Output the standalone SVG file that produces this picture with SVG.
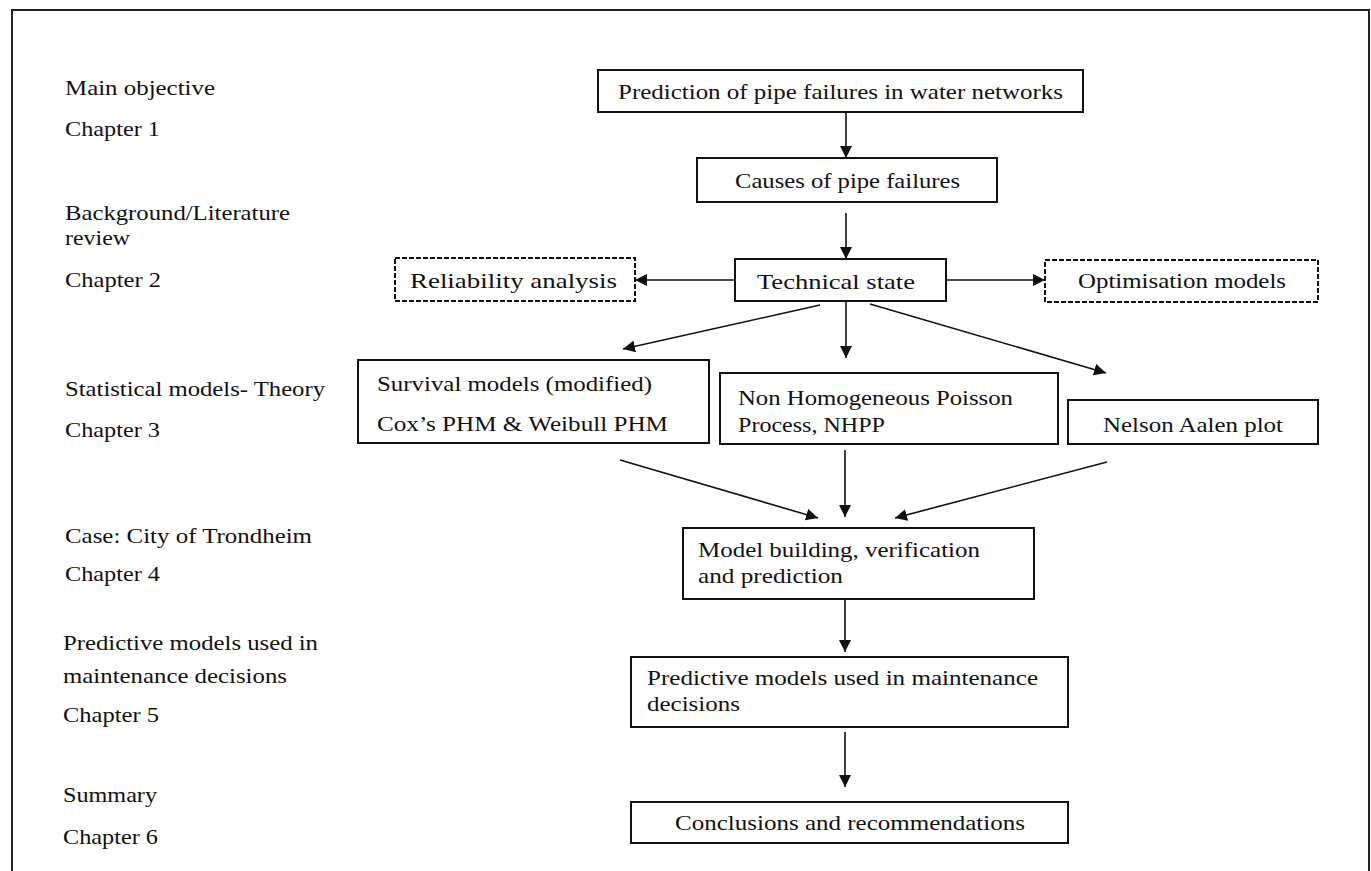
<svg xmlns="http://www.w3.org/2000/svg" width="1371" height="871" viewBox="0 0 1371 871">
<style>
text{font-family:"Liberation Serif","Times New Roman",serif;font-size:22px;fill:#111}
.box{fill:#fff;stroke:#111;stroke-width:2}
.dash{fill:#fff;stroke:#111;stroke-width:2;stroke-dasharray:5 2}
.con{stroke:#111;stroke-width:1.6;fill:none;marker-end:url(#ah)}
</style>
<defs>
<marker id="ah" markerUnits="userSpaceOnUse" markerWidth="13" markerHeight="12" refX="12" refY="6" orient="auto">
<path d="M0,0 L12,6 L0,12 z" fill="#111"/>
</marker>
</defs>
<rect width="1371" height="871" fill="#fff"/>
<rect x="12" y="10" width="1357" height="880" fill="none" stroke="#222" stroke-width="2"/>
<g id="labels">
<text x="65" y="95" textLength="150" lengthAdjust="spacingAndGlyphs">Main objective</text>
<text x="65" y="136" textLength="95" lengthAdjust="spacingAndGlyphs">Chapter 1</text>
<text x="65" y="220" textLength="225" lengthAdjust="spacingAndGlyphs">Background/Literature</text>
<text x="65" y="245" textLength="65" lengthAdjust="spacingAndGlyphs">review</text>
<text x="65" y="287" textLength="96" lengthAdjust="spacingAndGlyphs">Chapter 2</text>
<text x="65" y="396" textLength="260" lengthAdjust="spacingAndGlyphs">Statistical models- Theory</text>
<text x="65" y="437" textLength="95" lengthAdjust="spacingAndGlyphs">Chapter 3</text>
<text x="65" y="543" textLength="247" lengthAdjust="spacingAndGlyphs">Case: City of Trondheim</text>
<text x="65" y="581" textLength="95" lengthAdjust="spacingAndGlyphs">Chapter 4</text>
<text x="63" y="650" textLength="255" lengthAdjust="spacingAndGlyphs">Predictive models used in</text>
<text x="63" y="683" textLength="224" lengthAdjust="spacingAndGlyphs">maintenance decisions</text>
<text x="63" y="722" textLength="96" lengthAdjust="spacingAndGlyphs">Chapter 5</text>
<text x="63" y="802" textLength="94" lengthAdjust="spacingAndGlyphs">Summary</text>
<text x="63" y="844" textLength="95" lengthAdjust="spacingAndGlyphs">Chapter 6</text>
</g>
<g id="connectors">
<line class="con" x1="846" y1="112" x2="846" y2="158"/>
<line class="con" x1="846" y1="213" x2="846" y2="259"/>
<line class="con" x1="734" y1="280" x2="635" y2="280"/>
<line class="con" x1="946" y1="280" x2="1045" y2="280"/>
<line class="con" x1="820" y1="305" x2="623" y2="349"/>
<line class="con" x1="846" y1="302" x2="846" y2="358"/>
<line class="con" x1="870" y1="304" x2="1106" y2="373"/>
<line class="con" x1="620" y1="460" x2="818" y2="518"/>
<line class="con" x1="845" y1="450" x2="845" y2="517"/>
<line class="con" x1="1107" y1="462" x2="895" y2="518"/>
<line class="con" x1="845" y1="599" x2="845" y2="652"/>
<line class="con" x1="845" y1="732" x2="845" y2="787"/>
</g>
<g id="n-prediction">
<rect class="box" x="598" y="70" width="485" height="42"/>
<text x="618" y="99" textLength="445" lengthAdjust="spacingAndGlyphs">Prediction of pipe failures in water networks</text>
</g>
<g id="n-causes">
<rect class="box" x="697" y="158" width="300" height="44"/>
<text x="735" y="188" textLength="225" lengthAdjust="spacingAndGlyphs">Causes of pipe failures</text>
</g>
<g id="n-technical">
<rect class="box" x="735" y="259" width="211" height="42"/>
<text x="757" y="289" textLength="158" lengthAdjust="spacingAndGlyphs">Technical state</text>
</g>
<g id="n-reliability">
<rect class="dash" x="395" y="258" width="240" height="43"/>
<text x="410" y="288" textLength="207" lengthAdjust="spacingAndGlyphs">Reliability analysis</text>
</g>
<g id="n-optimisation">
<rect class="dash" x="1045" y="260" width="273" height="42"/>
<text x="1078" y="288" textLength="208" lengthAdjust="spacingAndGlyphs">Optimisation models</text>
</g>
<g id="n-survival">
<rect class="box" x="358" y="360" width="351" height="83"/>
<text x="377" y="391" textLength="275" lengthAdjust="spacingAndGlyphs">Survival models (modified)</text>
<text x="377" y="431" textLength="291" lengthAdjust="spacingAndGlyphs">Cox’s PHM &amp; Weibull PHM</text>
</g>
<g id="n-nhpp">
<rect class="box" x="720" y="373" width="338" height="71"/>
<text x="738" y="405" textLength="275" lengthAdjust="spacingAndGlyphs">Non Homogeneous Poisson</text>
<text x="738" y="432" textLength="147" lengthAdjust="spacingAndGlyphs">Process, NHPP</text>
</g>
<g id="n-nelson">
<rect class="box" x="1068" y="400" width="250" height="44"/>
<text x="1103" y="432" textLength="180" lengthAdjust="spacingAndGlyphs">Nelson Aalen plot</text>
</g>
<g id="n-model">
<rect class="box" x="683" y="528" width="351" height="71"/>
<text x="698" y="557" textLength="282" lengthAdjust="spacingAndGlyphs">Model building, verification</text>
<text x="698" y="583" textLength="145" lengthAdjust="spacingAndGlyphs">and prediction</text>
</g>
<g id="n-predictive">
<rect class="box" x="631" y="657" width="437" height="70"/>
<text x="647" y="685" textLength="391" lengthAdjust="spacingAndGlyphs">Predictive models used in maintenance</text>
<text x="647" y="711" textLength="93" lengthAdjust="spacingAndGlyphs">decisions</text>
</g>
<g id="n-conclusions">
<rect class="box" x="631" y="802" width="437" height="41"/>
<text x="675" y="830" textLength="350" lengthAdjust="spacingAndGlyphs">Conclusions and recommendations</text>
</g>
</svg>
